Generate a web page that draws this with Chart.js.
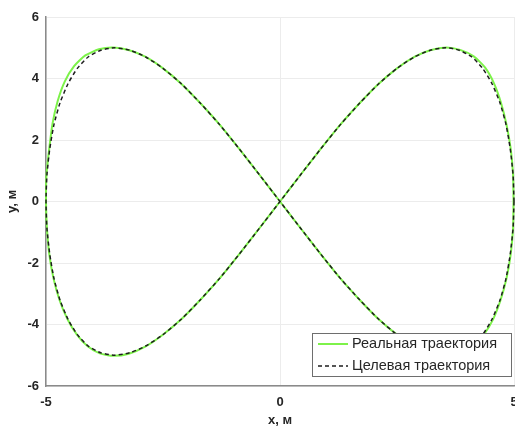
<!DOCTYPE html>
<html><head><meta charset="utf-8">
<script src="https://cdn.jsdelivr.net/npm/chart.js@4/dist/chart.umd.min.js"></script>
<style>html,body{margin:0;padding:0;background:#fff}#c{display:block}</style>
</head><body>
<canvas id="c" width="515" height="429"></canvas>
<script>
const targetX = [5.00,4.98,4.92,4.83,4.70,4.53,4.33,4.10,3.83,3.54,3.21,2.87,2.50,2.11,1.71,1.29,0.87,0.44,0.00,
  -0.44,-0.87,-1.29,-1.71,-2.11,-2.50,-2.87,-3.21,-3.54,-3.83,-4.10,-4.33,-4.53,-4.70,-4.83,-4.92,-4.98,-5.00,
  -4.98,-4.92,-4.83,-4.70,-4.53,-4.33,-4.10,-3.83,-3.54,-3.21,-2.87,-2.50,-2.11,-1.71,-1.29,-0.87,-0.44,0.00,
  0.44,0.87,1.29,1.71,2.11,2.50,2.87,3.21,3.54,3.83,4.10,4.33,4.53,4.70,4.83,4.92,4.98,5.00];
const targetY = [0.00,0.87,1.71,2.50,3.21,3.83,4.33,4.70,4.92,5.00,4.92,4.70,4.33,3.83,3.21,2.50,1.71,0.87,0.00,
  -0.87,-1.71,-2.50,-3.21,-3.83,-4.33,-4.70,-4.92,-5.00,-4.92,-4.70,-4.33,-3.83,-3.21,-2.50,-1.71,-0.87,0.00,
  0.87,1.71,2.50,3.21,3.83,4.33,4.70,4.92,5.00,4.92,4.70,4.33,3.83,3.21,2.50,1.71,0.87,0.00,
  -0.87,-1.71,-2.50,-3.21,-3.83,-4.33,-4.70,-4.92,-5.00,-4.92,-4.70,-4.33,-3.83,-3.21,-2.50,-1.71,-0.87,0.00];
const realX = [4.99,4.98,4.93,4.84,4.72,4.57,4.38,4.14,3.85,3.55,3.21,2.87,2.50,2.11,1.71,1.29,0.87,0.44,0.00,
  -0.44,-0.87,-1.29,-1.71,-2.11,-2.51,-2.88,-3.23,-3.56,-3.85,-4.11,-4.34,-4.54,-4.71,-4.84,-4.93,-4.98,-5.00,
  -4.99,-4.93,-4.86,-4.75,-4.60,-4.40,-4.16,-3.87,-3.56,-3.22,-2.87,-2.50,-2.11,-1.71,-1.29,-0.87,-0.44,0.00,
  0.44,0.87,1.29,1.71,2.11,2.50,2.87,3.22,3.55,3.85,4.12,4.35,4.55,4.71,4.84,4.93,4.98,4.99];
const realY = [0.00,0.87,1.71,2.50,3.22,3.85,4.36,4.72,4.93,5.01,4.92,4.70,4.33,3.83,3.21,2.50,1.71,0.87,0.00,
  -0.87,-1.71,-2.50,-3.21,-3.83,-4.34,-4.72,-4.95,-5.02,-4.94,-4.71,-4.33,-3.83,-3.21,-2.50,-1.71,-0.87,0.00,
  0.87,1.73,2.54,3.27,3.90,4.40,4.75,4.95,5.01,4.92,4.70,4.33,3.83,3.21,2.50,1.71,0.87,0.00,
  -0.87,-1.71,-2.50,-3.21,-3.83,-4.33,-4.70,-4.93,-5.01,-4.93,-4.71,-4.34,-3.84,-3.22,-2.50,-1.71,-0.87,0.00];
const xTicks = [-5, 0, 5];
const yTicks = [-6, -4, -2, 0, 2, 4, 6];
const seriesNames = ['Реальная траектория', 'Целевая траектория'];
const xTitle = 'x, м';
const yTitle = 'y, м';

const toPts = (xs, ys) => xs.map((x, i) => ({x: x, y: ys[i]}));
const FONT = '"Liberation Sans", Arial, Helvetica, sans-serif';
const TXT = '#262626';

const legendPlugin = {
  id: 'boxLegend',
  afterDraw(chart) {
    const ctx = chart.ctx, a = chart.chartArea;
    const L = a.right - 202, R = a.right - 2, T = a.bottom - 53, B = a.bottom - 9;
    ctx.save();
    ctx.fillStyle = '#fff';
    ctx.fillRect(L, T, R - L, B - T);
    ctx.strokeStyle = '#6e6e6e';
    ctx.lineWidth = 1;
    ctx.strokeRect(L + 0.5, T + 0.5, R - L - 1, B - T - 1);
    const ds = chart.data.datasets;
    const rows = [T + 11, T + 33];
    ds.forEach((d, i) => {
      const y = rows[i];
      ctx.beginPath();
      ctx.strokeStyle = d.borderColor;
      ctx.lineWidth = d.borderWidth;
      ctx.setLineDash(d.borderDash || []);
      ctx.moveTo(L + 6, y); ctx.lineTo(L + 36, y);
      ctx.stroke();
      ctx.setLineDash([]);
      ctx.fillStyle = TXT;
      ctx.font = '14.5px ' + FONT;
      ctx.textBaseline = 'middle';
      ctx.textAlign = 'left';
      ctx.fillText(d.label, L + 40, y);
    });
    ctx.restore();
  }
};

new Chart(document.getElementById('c'), {
  type: 'scatter',
  data: {
    datasets: [
      {label: seriesNames[0], data: toPts(realX, realY), showLine: true, borderColor: '#7df24a', borderWidth: 2, pointRadius: 0, tension: 0.2, order: 1, clip: 4},
      {label: seriesNames[1], data: toPts(targetX, targetY), showLine: true, borderColor: '#1e1e1e', borderWidth: 1.5, borderDash: [4, 3], pointRadius: 0, tension: 0.2, order: 0, clip: 4}
    ]
  },
  options: {
    responsive: false,
    animation: false,
    layout: {padding: {top: 17, right: 1, left: 0, bottom: 0}},
    plugins: {legend: {display: false}, tooltip: {enabled: false}},
    scales: {
      x: {
        type: 'linear', min: -5, max: 5,
        afterBuildTicks(s) { s.ticks = xTicks.map(v => ({value: v})); },
        afterFit(s) { s.height = 43; s.paddingLeft = 0; s.paddingRight = 0; },
        grid: {color: '#ececec', drawTicks: false, lineWidth: 1},
        border: {display: true, color: '#8a8a8a', width: 1.5},
        ticks: {color: TXT, font: {family: FONT, size: 13, weight: 'bold'}, padding: 9, maxRotation: 0},
        title: {display: true, text: xTitle, color: TXT, font: {family: FONT, size: 13, weight: 'bold'}, padding: {top: 0, bottom: 1}}
      },
      y: {
        type: 'linear', min: -6, max: 6,
        afterBuildTicks(s) { s.ticks = yTicks.map(v => ({value: v})); },
        afterFit(s) { s.width = 46; s.paddingTop = 0; s.paddingBottom = 0; },
        grid: {color: '#ececec', drawTicks: false, lineWidth: 1},
        border: {display: true, color: '#8a8a8a', width: 1.5},
        ticks: {color: TXT, font: {family: FONT, size: 13, weight: 'bold'}, padding: 7},
        title: {display: true, text: yTitle, color: TXT, font: {family: FONT, size: 13, weight: 'bold'}, padding: {top: 5, bottom: 0}}
      }
    }
  },
  plugins: [legendPlugin]
});
</script>
</body></html>
